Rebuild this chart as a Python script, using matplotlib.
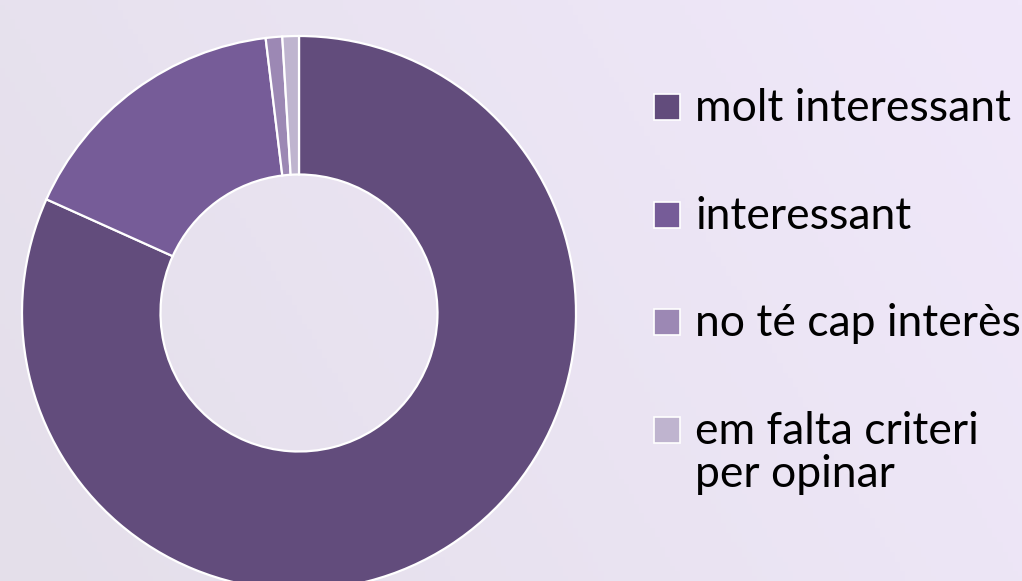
import numpy as np
import matplotlib
matplotlib.use("Agg")
import matplotlib.pyplot as plt
from matplotlib.patches import Rectangle

# survey answers (counts)
labels = ["molt interessant", "interessant", "no té cap interès", "em falta criteri\nper opinar"]
counts = [85, 17, 1, 1]
colors = ["#624c7c", "#765c98", "#9c88b4", "#bfb4cf"]

W, H = 1022, 581
fig = plt.figure(figsize=(W / 100, H / 100), dpi=100)

# soft lavender background gradient
bg = fig.add_axes([0, 0, 1, 1], zorder=-10)
xx, yy = np.meshgrid(np.linspace(0, 1, 200), np.linspace(0, 1, 120))
t = np.clip(0.75 * xx + 0.25 * (1 - yy), 0, 1)
c0 = np.array([0xe4, 0xdf, 0xea]) / 255
c1 = np.array([0xf0, 0xe8, 0xfa]) / 255
img = c0[None, None, :] * (1 - t[..., None]) + c1[None, None, :] * t[..., None]
bg.imshow(img, aspect="auto", extent=[0, 1, 0, 1], origin="upper")
bg.axis("off")

# donut: centre (299, 313) px, outer radius 277 px
cx, cy, r = 299, 313, 277
ax = fig.add_axes([(cx - r) / W, (H - cy - r) / H, 2 * r / W, 2 * r / H])
ax.pie(counts, colors=colors, startangle=90, counterclock=False, radius=1,
       wedgeprops=dict(width=0.5, edgecolor="white", linewidth=1.6))
ax.set_xlim(-1, 1)
ax.set_ylim(-1, 1)
ax.set_aspect("equal")
ax.axis("off")

# legend drawn by hand so the square sits next to the first text line
sq = 26
x_sq = 654
x_txt = 695
line_h = 43
y_centres = [107, 215, 322, 430]
for lab, col, yc in zip(labels, colors, y_centres):
    fig.patches.append(Rectangle((x_sq / W, (H - yc - sq / 2) / H), sq / W, sq / H,
                                 transform=fig.transFigure, facecolor=col,
                                 edgecolor="white", linewidth=1.2))
    for i, line in enumerate(lab.split("\n")):
        fig.text(x_txt / W, (H - yc - 14 - i * line_h) / H, line, fontsize=32,
                 family="Lato", color="black", va="baseline", ha="left")

fig.savefig("out.png", dpi=100)
